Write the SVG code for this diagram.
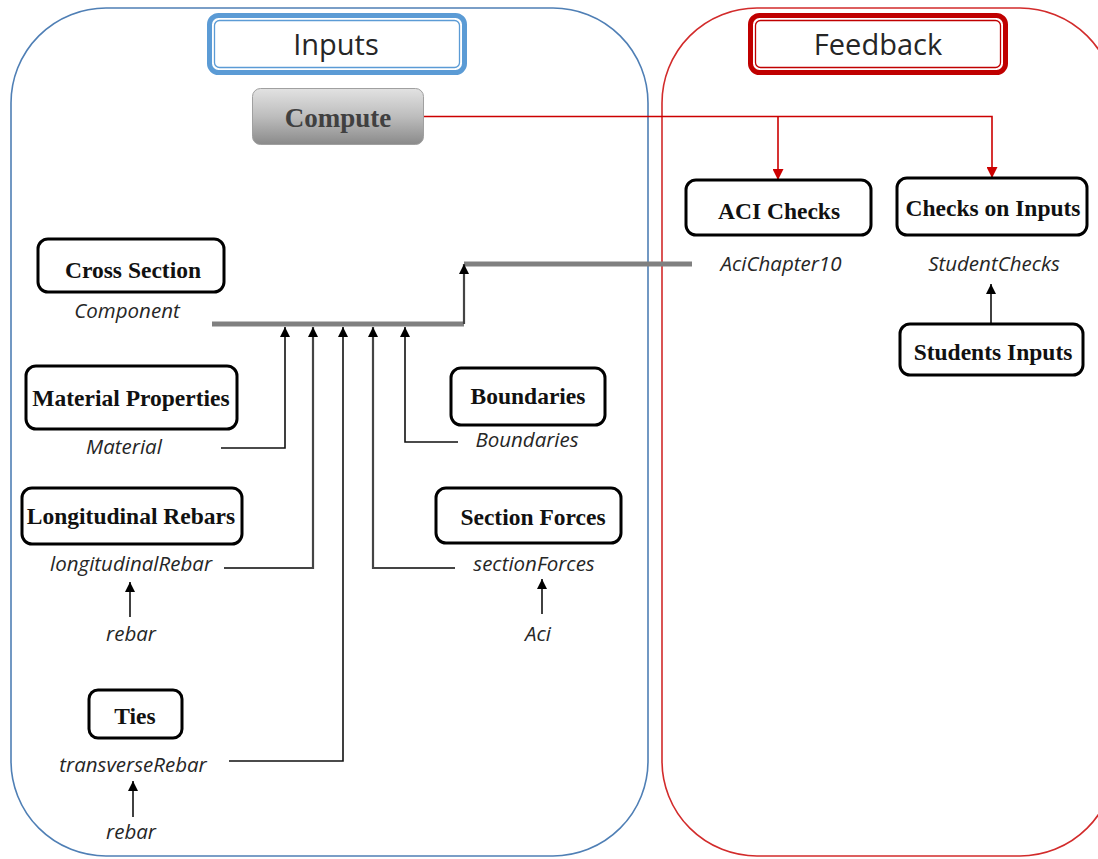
<svg xmlns="http://www.w3.org/2000/svg" width="1098" height="859" viewBox="0 0 1098 859">
  <defs>
    <style>
      .panel-in { fill: none; stroke: #4f7fb5; stroke-width: 1.6; }
      .panel-fb { fill: none; stroke: #d22b2b; stroke-width: 1.6; }
      .title { font-family: "Open Sans", "Liberation Sans", sans-serif; font-size: 29px; fill: #262626; text-anchor: middle; }
      .node rect { fill: #fff; stroke: #000; stroke-width: 3; }
      .node text, .lbl-bold { font-family: "Liberation Serif", "Times New Roman", serif; font-weight: bold; font-size: 23.5px; fill: #111; text-anchor: middle; }
      .var { font-family: "Open Sans", "Liberation Sans", sans-serif; font-style: italic; font-size: 20.5px; fill: #262626; text-anchor: middle; }
      .wire { fill: none; stroke: #111; stroke-width: 1.6; }
      .wire2 { fill: none; stroke: #444; stroke-width: 2.2; }
      .bus { fill: none; stroke: #808080; stroke-width: 5; }
      .red { fill: none; stroke: #cc0000; stroke-width: 1.6; }
    </style>
    <linearGradient id="btnGrad" x1="0" y1="0" x2="0" y2="1">
      <stop offset="0" stop-color="#e2e2e2"/>
      <stop offset="0.5" stop-color="#bdbdbd"/>
      <stop offset="1" stop-color="#8a8a8a"/>
    </linearGradient>
    <marker id="ah" viewBox="0 0 10 10" refX="10" refY="5" markerWidth="11" markerHeight="10" markerUnits="userSpaceOnUse" orient="auto">
      <path d="M0,0 L10,5 L0,10 Z" fill="#000"/>
    </marker>
    <marker id="ahr" viewBox="0 0 10 10" refX="10" refY="5" markerWidth="11" markerHeight="11" markerUnits="userSpaceOnUse" orient="auto">
      <path d="M0,0 L10,5 L0,10 Z" fill="#cc0000"/>
    </marker>
  </defs>

  <rect width="1098" height="859" fill="#fff"/>

  <!-- panels -->
  <g id="panel-inputs">
    <rect class="panel-in" x="11" y="8" width="637" height="848" rx="95" ry="95"/>
    <rect x="209.5" y="15.5" width="255" height="57" rx="9" fill="#fff" stroke="#5b9bd5" stroke-width="5"/>
    <rect x="214.5" y="20.5" width="245" height="47" rx="5" fill="none" stroke="#5b9bd5" stroke-width="1.3"/>
    <text class="title" x="336" y="55">Inputs</text>
  </g>
  <g id="panel-feedback">
    <rect class="panel-fb" x="662" y="8" width="453" height="848" rx="95" ry="95"/>
    <rect x="750.5" y="15.5" width="255" height="57" rx="9" fill="#fff" stroke="#c00000" stroke-width="5"/>
    <rect x="755.5" y="20.5" width="245" height="47" rx="5" fill="none" stroke="#c00000" stroke-width="1.3"/>
    <text class="title" x="878" y="55">Feedback</text>
  </g>

  <!-- connectors -->
  <g id="connectors">
    <!-- compute to feedback checks -->
    <path class="red" d="M424,116.5 H992 V178" marker-end="url(#ahr)"/>
    <path class="red" d="M778,116.5 V180" marker-end="url(#ahr)"/>

    <!-- collecting bus -->
    <path class="bus" d="M212,324 H464"/>
    <path class="bus" d="M464,264 H692"/>
    <path class="wire2" d="M464,324 V264" marker-end="url(#ah)"/>

    <!-- inputs into bus -->
    <path class="wire" d="M221,448 H285 V327" marker-end="url(#ah)"/>
    <path class="wire2" d="M224,568 H313 V327" marker-end="url(#ah)"/>
    <path class="wire" d="M229,761 H343 V327" marker-end="url(#ah)"/>
    <path class="wire2" d="M455,568 H373 V327" marker-end="url(#ah)"/>
    <path class="wire" d="M458,442 H405 V327" marker-end="url(#ah)"/>

    <!-- small feeders -->
    <path class="wire" d="M130,617 V582" marker-end="url(#ah)"/>
    <path class="wire" d="M133,817 V781" marker-end="url(#ah)"/>
    <path class="wire" d="M542,614 V579" marker-end="url(#ah)"/>
    <path class="wire" d="M991,323 V284" marker-end="url(#ah)"/>
  </g>

  <!-- compute button -->
  <g id="compute">
    <rect x="252.5" y="88.5" width="171" height="56" rx="8" fill="url(#btnGrad)" stroke="#a0a0a0" stroke-width="1"/>
    <text class="lbl-bold" x="338" y="127" style="font-size:27px; fill:#404040">Compute</text>
  </g>

  <!-- input nodes -->
  <g id="cross-section" class="node">
    <rect x="38" y="239" width="186" height="53" rx="10"/>
    <text x="133" y="278">Cross Section</text>
  </g>
  <text class="var" x="127" y="318">Component</text>

  <g id="material-properties" class="node">
    <rect x="26" y="366" width="211" height="63" rx="10"/>
    <text x="131" y="406">Material Properties</text>
  </g>
  <text class="var" x="124" y="454">Material</text>

  <g id="boundaries" class="node">
    <rect x="451" y="368" width="154" height="57" rx="10"/>
    <text x="528" y="404">Boundaries</text>
  </g>
  <text class="var" x="527" y="447">Boundaries</text>

  <g id="longitudinal-rebars" class="node">
    <rect x="22" y="488" width="220" height="56" rx="10"/>
    <text x="131" y="524">Longitudinal Rebars</text>
  </g>
  <text class="var" x="131" y="571">longitudinalRebar</text>
  <text class="var" x="131" y="641">rebar</text>

  <g id="section-forces" class="node">
    <rect x="436" y="488" width="185" height="55" rx="10"/>
    <text x="533" y="525">Section Forces</text>
  </g>
  <text class="var" x="534" y="571">sectionForces</text>
  <text class="var" x="538" y="641">Aci</text>

  <g id="ties" class="node">
    <rect x="89" y="690" width="93" height="48" rx="9"/>
    <text x="135" y="724">Ties</text>
  </g>
  <text class="var" x="133" y="772">transverseRebar</text>
  <text class="var" x="131" y="839">rebar</text>

  <!-- feedback nodes -->
  <g id="aci-checks" class="node">
    <rect x="686" y="180" width="185" height="55" rx="10"/>
    <text x="779" y="219">ACI Checks</text>
  </g>
  <text class="var" x="781" y="271">AciChapter10</text>

  <g id="checks-on-inputs" class="node">
    <rect x="897" y="178" width="190" height="57" rx="10"/>
    <text x="993" y="216">Checks on Inputs</text>
  </g>
  <text class="var" x="994" y="271">StudentChecks</text>

  <g id="students-inputs" class="node">
    <rect x="900" y="324" width="183" height="51" rx="10"/>
    <text x="993" y="360">Students Inputs</text>
  </g>
</svg>
